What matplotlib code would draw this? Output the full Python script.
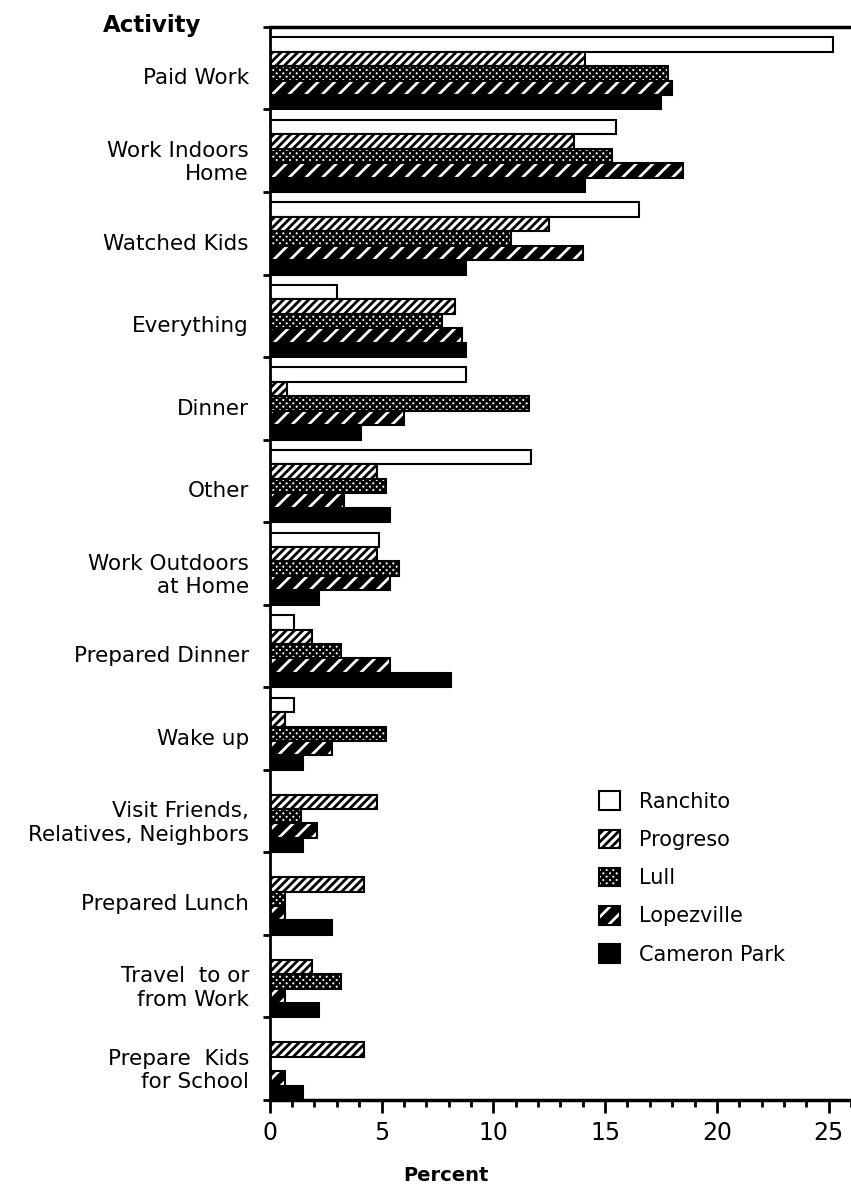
import matplotlib
matplotlib.use("Agg")
import matplotlib.pyplot as plt
from matplotlib.patches import Patch
from matplotlib.ticker import MultipleLocator, FixedLocator
import numpy as np

activities = ["Paid Work", "Work Indoors\nHome", "Watched Kids", "Everything", "Dinner",
              "Other", "Work Outdoors\nat Home", "Prepared Dinner", "Wake up",
              "Visit Friends,\nRelatives, Neighbors", "Prepared Lunch",
              "Travel  to or\nfrom Work", "Prepare  Kids\nfor School"]
sites = ["Ranchito", "Progreso", "Lull", "Lopezville", "Cameron Park"]

ranchito    = [25.2, 15.5, 16.5, 3.0, 8.8, 11.7, 4.9, 1.1, 1.1, 0.0, 0.0, 0.0, 0.0]
progreso    = [14.1, 13.6, 12.5, 8.3, 0.75, 4.8, 4.8, 1.9, 0.7, 4.8, 4.2, 1.9, 4.2]
lull        = [17.8, 15.3, 10.8, 7.7, 11.6, 5.2, 5.8, 3.2, 5.2, 1.4, 0.7, 3.2, 0.0]
lopezville  = [18.0, 18.5, 14.0, 8.6, 6.0, 3.3, 5.4, 5.4, 2.8, 2.1, 0.7, 0.7, 0.7]
cameronpark = [17.5, 14.1, 8.8, 8.8, 4.1, 5.4, 2.2, 8.1, 1.5, 1.5, 2.8, 2.2, 1.5]
series = [ranchito, progreso, lull, lopezville, cameronpark]

plt.rcParams['font.family'] = ['DejaVu Sans']
plt.rcParams['hatch.linewidth'] = 2.0

fig = plt.figure(figsize=(8.51, 12.03), dpi=100)
ax = fig.add_axes([0.317, 0.0856, 0.683, 0.892])

ngroup = len(activities)
bh = 0.175
ypos = np.arange(ngroup)
handles = []
for j, vals in enumerate(series):
    yc = ypos + 0.125 + bh * (j + 0.5)
    if j == 0:
        ax.barh(yc, vals, height=bh, color='white', edgecolor='black', linewidth=1.5)
        handles.append(Patch(facecolor='white', edgecolor='black', linewidth=1.5))
    elif j == 1:
        ax.barh(yc, vals, height=bh, color='white', edgecolor='black', linewidth=1.5, hatch='////')
        handles.append(Patch(facecolor='white', edgecolor='black', linewidth=1.5, hatch='////'))
    elif j == 2:
        ax.barh(yc, vals, height=bh, color='white', edgecolor='black', linewidth=1.5, hatch='xxxxx')
        handles.append(Patch(facecolor='white', edgecolor='black', linewidth=1.5, hatch='xxxxx'))
    elif j == 3:
        ax.barh(yc, vals, height=bh, color='black', edgecolor='white', linewidth=0, hatch='//')
        ax.barh(yc, vals, height=bh, fill=False, edgecolor='black', linewidth=1.5)
        handles.append((Patch(facecolor='black', edgecolor='white', linewidth=0, hatch='//'),
                        Patch(fill=False, edgecolor='black', linewidth=1.5)))
    else:
        ax.barh(yc, vals, height=bh, color='black', edgecolor='black', linewidth=1.5)
        handles.append(Patch(facecolor='black', edgecolor='black', linewidth=1.5))

ax.set_ylim(ngroup, 0)
ax.set_xlim(0, 26)

ax.yaxis.set_major_locator(FixedLocator(np.arange(ngroup + 1)))
ax.yaxis.set_major_formatter(plt.NullFormatter())
ax.yaxis.set_minor_locator(FixedLocator(ypos + 0.6))
ax.set_yticklabels(activities, minor=True, fontsize=15.5, ha='right')
ax.tick_params(axis='y', which='major', direction='out', length=5, width=2)
ax.tick_params(axis='y', which='minor', length=0, pad=15)

ax.xaxis.set_major_locator(MultipleLocator(5))
ax.xaxis.set_minor_locator(MultipleLocator(1))
ax.tick_params(axis='x', which='major', direction='out', length=9, width=2, labelsize=17, pad=6)
ax.tick_params(axis='x', which='minor', direction='out', length=5, width=2)

ax.spines['right'].set_visible(False)
ax.spines['left'].set_linewidth(2)
ax.spines['top'].set_linewidth(2.5)
ax.spines['bottom'].set_linewidth(2.5)

fig.text(0.121, 0.979, "Activity", fontsize=16.5, fontweight='bold', ha='left', va='center')
fig.text(0.524, 0.023, "Percent", fontsize=14, fontweight='bold', ha='center', va='center')

ax.legend(handles, sites, loc='upper left', bbox_to_anchor=(0.535, 0.305), frameon=False,
          fontsize=15, handlelength=1.0, handleheight=1.0, labelspacing=0.85, handletextpad=0.9)

fig.savefig("out.png", dpi=100)
